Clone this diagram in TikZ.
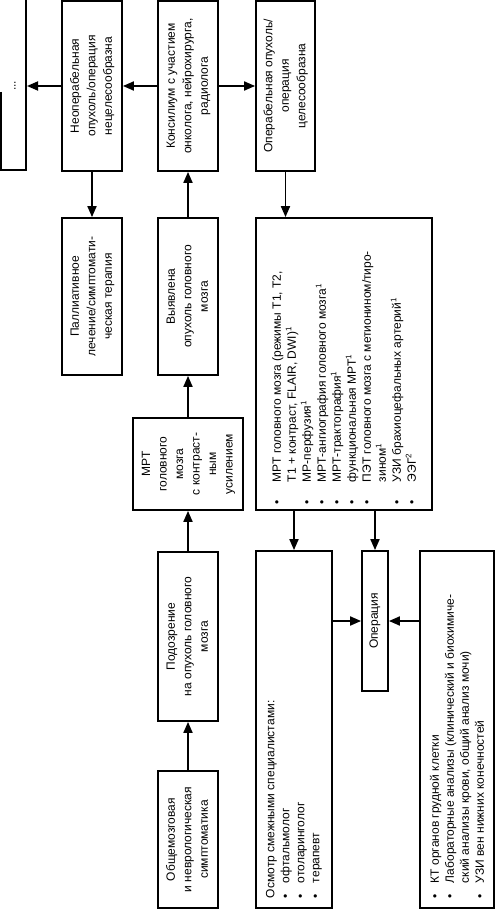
\documentclass[tikz,border=0pt]{standalone}
\usepackage{fontspec}
\setmainfont{Liberation Sans}
\usetikzlibrary{arrows.meta}
\newcommand\rtc[1]{\rotatebox{90}{\begin{tabular}{@{}c@{}}#1\end{tabular}}}
\newcommand\rtl[2]{\rotatebox{90}{\parbox{#1}{\raggedright #2}}}
\newcommand\itm[2]{\par\noindent\hangindent=#1\hangafter=1\makebox[#1][l]{\textbullet}#2}
\begin{document}
\begin{tikzpicture}[x=1pt,y=-1pt,
  box/.style={draw, line width=1.8pt, inner sep=0pt},
  arr/.style={line width=1.8pt, -{Triangle[length=11pt,width=9pt]}},
  cfont/.style={font=\fontsize{12}{16.5}\selectfont},
  lfont/.style={font=\fontsize{12}{15}\selectfont}]
\useasboundingbox (0,0) rectangle (496,912);
% partial box at the left edge
\draw[line width=1.8pt] (1,92) -- (1,170) -- (26,170) -- (26,-2);
\node[lfont, inner sep=0pt] (cont) at (15,86) {\rotatebox{90}{...}};
\coordinate (contE) at (27,86);
% boxes
\node[box,cfont,minimum width=60,minimum height=170] (neop) at (92,86)
  {\rtc{Неоперабельная\\опухоль/операция\\нецелесообразна}};
\node[box,cfont,minimum width=60,minimum height=170] (kons) at (188,86)
  {\rtc{Консилиум с участием\\онколога, нейрохирурга,\\радиолога}};
\node[box,cfont,minimum width=59,minimum height=170] (oper) at (285.5,86)
  {\rtc{Операбельная опухоль/\\операция\\целесообразна}};
\node[box,cfont,minimum width=60,minimum height=157] (pall) at (92,296.5)
  {\rtc{Паллиативное\\лечение/симптомати-\\ческая терапия}};
\node[box,cfont,minimum width=60,minimum height=157] (vyyav) at (188,296.5)
  {\rtc{Выявлена\\опухоль головного\\мозга}};
\node[box,cfont,minimum width=110,minimum height=92] (mrt) at (188,464)
  {\rtc{МРТ\\головного\\мозга\\с контраст-\\ным\\усилением}};
\node[box,cfont,minimum width=60,minimum height=169] (podo) at (188,636.5)
  {\rtc{Подозрение\\на опухоль головного\\мозга}};
\node[box,cfont,minimum width=60,minimum height=137] (obsh) at (188,839.5)
  {\rtc{Общемозговая\\и неврологическая\\симптоматика}};
\node[box,lfont,minimum width=176,minimum height=292] (list) at (344,364)
  {\rtl{280pt}{%
   \itm{22pt}{МРТ головного мозга (режимы T1, T2,\newline T1 + контраст, FLAIR, DWI)\textsuperscript{1}}%
   \itm{22pt}{МР-перфузия\textsuperscript{1}}%
   \itm{22pt}{МРТ-ангиография головного мозга\textsuperscript{1}}%
   \itm{22pt}{МРТ-трактография\textsuperscript{1}}%
   \itm{22pt}{функциональная МРТ\textsuperscript{1}}%
   \itm{22pt}{ПЭТ головного мозга с метионином/тиро-\newline зином\textsuperscript{1}}%
   \itm{22pt}{УЗИ брахиоцефальных артерий\textsuperscript{1}}%
   \itm{22pt}{ЭЭГ\textsuperscript{2}}}};
\node[box,lfont,minimum width=76,minimum height=357] (osm) at (294,729.5)
  {\rtl{337pt}{Осмотр смежными специалистами:%
   \itm{15pt}{офтальмолог}%
   \itm{15pt}{отоларинголог}%
   \itm{15pt}{терапевт}}};
\node[box,cfont,minimum width=26,minimum height=140] (op) at (375,621)
  {\rotatebox{90}{Операция}};
\node[box,lfont,minimum width=74,minimum height=357] (kt) at (457,729.5)
  {\rtl{337pt}{%
   \itm{15pt}{КТ органов грудной клетки}%
   \itm{15pt}{Лабораторные анализы (клинический и биохимиче-\newline ский анализы крови, общий анализ мочи)}%
   \itm{15pt}{УЗИ вен нижних конечностей}}};
% connectors
\draw[arr] (neop) -- (contE);
\draw[arr] (kons) -- (neop);
\draw[arr] (kons) -- (oper);
\draw[arr] (neop) -- (pall);
\draw[arr] (vyyav) -- (kons);
\draw[arr] (mrt) -- (vyyav);
\draw[arr] (podo) -- (mrt);
\draw[arr] (obsh) -- (podo);
\draw[arr] (oper.south) -- (oper.south |- list.north);
\draw[arr] (list.south -| osm.north) -- (osm.north);
\draw[arr] (list.south -| op.north) -- (op.north);
\draw[arr] (osm.east |- op.west) -- (op.west);
\draw[arr] (kt.west |- op.east) -- (op.east);
\end{tikzpicture}
\end{document}
